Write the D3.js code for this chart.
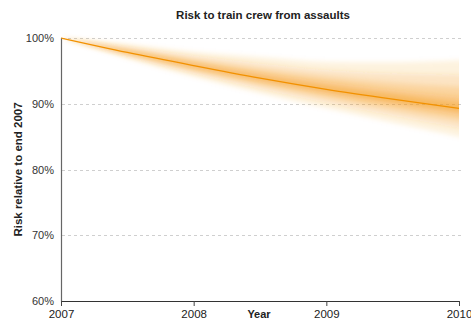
<!DOCTYPE html>
<html>
<head>
<meta charset="utf-8">
<script src="https://cdn.jsdelivr.net/npm/d3@7"></script>
<style>
  html, body { margin: 0; padding: 0; background: #fff; }
  svg { display: block; font-family: "Liberation Sans", Arial, sans-serif; }
</style>
</head>
<body>
<svg id="chart" width="471" height="322"></svg>
<script>
// Projection time points (years)
const years = [2007, 2007.5, 2008, 2008.5, 2009, 2009.5, 2010];

// Central projection, % of end-2007 risk
const median = [100, 97.8, 95.8, 93.9, 92.2, 90.7, 89.3];

// Quantile bounds of the projection fan
const q05 = [100, 96.9, 94.1, 91.6, 89.3, 87.1, 85.0];
const q15 = [100, 97.2, 94.6, 92.3, 90.2, 88.2, 86.3];
const q25 = [100, 97.4, 95.0, 92.9, 90.9, 89.1, 87.4];
const q35 = [100, 97.6, 95.4, 93.3, 91.5, 89.8, 88.2];
const q45 = [100, 97.7, 95.6, 93.7, 91.9, 90.3, 88.9];
const q55 = [100, 97.9, 96.0, 94.2, 92.6, 91.3, 90.0];
const q65 = [100, 98.1, 96.3, 94.7, 93.3, 92.1, 91.1];
const q75 = [100, 98.4, 96.7, 95.3, 94.1, 93.2, 92.6];
const q85 = [100, 98.7, 97.3, 96.1, 95.1, 94.6, 94.4];
const q95 = [100, 99.1, 97.9, 97.1, 96.4, 96.3, 96.6];

// Axis ticks
const xTicks = [2007, 2008, 2009, 2010];
const yTicks = [60, 70, 80, 90, 100];

const title = "Risk to train crew from assaults";
const xTitle = "Year";
const yTitle = "Risk relative to end 2007";

const svg = d3.select("#chart");
const plotLeft = 61, plotRight = 459, plotTop = 38, plotBottom = 301;

const x = d3.scaleLinear().domain([2007, 2010]).range([plotLeft, plotRight]);
const y = d3.scaleLinear().domain([60, 100]).range([plotBottom, plotTop]);

// Vertical-only blur to soften the fan bands
const defs = svg.append("defs");
defs.append("filter")
  .attr("id", "soft")
  .attr("filterUnits", "userSpaceOnUse")
  .attr("x", plotLeft).attr("y", 0).attr("width", plotRight - plotLeft).attr("height", 322)
  .append("feGaussianBlur")
  .attr("stdDeviation", "0 2.5");

// Dashed gridlines
svg.append("g")
  .selectAll("line")
  .data(yTicks.filter(d => d > 60))
  .join("line")
  .attr("x1", plotLeft + 1).attr("x2", plotRight + 2)
  .attr("y1", d => Math.round(y(d)) + 0.5).attr("y2", d => Math.round(y(d)) + 0.5)
  .attr("stroke", "#cfcfcf")
  .attr("stroke-dasharray", "3,3");

// Fan bands, outermost first
const bands = [[q05, q95], [q15, q85], [q25, q75], [q35, q65], [q45, q55]];
const bandOpacity = [0.13, 0.16, 0.2, 0.26, 0.36];
const area = d3.area()
  .x(d => x(d.t))
  .y0(d => y(d.lo))
  .y1(d => y(d.hi))
  .curve(d3.curveMonotoneX);

svg.append("g")
  .attr("filter", "url(#soft)")
  .selectAll("path")
  .data(bands)
  .join("path")
  .attr("d", ([lo, hi]) => area(years.map((t, i) => ({ t, lo: lo[i], hi: hi[i] }))))
  .attr("fill", "#f39a1e")
  .attr("fill-opacity", (d, i) => bandOpacity[i]);

// Central line
const line = d3.line()
  .x((d, i) => x(years[i]))
  .y(d => y(d))
  .curve(d3.curveMonotoneX);

svg.append("path")
  .attr("d", line(median))
  .attr("fill", "none")
  .attr("stroke", "#f29100")
  .attr("stroke-width", 1.3);

// Y axis
const yAxis = svg.append("g")
  .attr("transform", `translate(${plotLeft},0)`)
  .call(d3.axisLeft(y).tickValues(yTicks).tickFormat(d => d + "%").tickSize(0).tickPadding(7));
yAxis.select(".domain").attr("stroke", "#666").attr("stroke-width", 1.2);
yAxis.selectAll("text").attr("font-size", 11).attr("fill", "#333")
  .attr("font-family", "Liberation Sans, Arial, sans-serif");

// X axis
const xAxis = svg.append("g")
  .attr("transform", `translate(0,${plotBottom})`)
  .call(d3.axisBottom(x).tickValues(xTicks).tickFormat(d3.format("d")).tickSizeInner(5).tickSizeOuter(0).tickPadding(4));
xAxis.select(".domain").attr("stroke", "#333").attr("stroke-width", 1.2);
xAxis.selectAll(".tick line").attr("stroke", "#444");
xAxis.selectAll("text").attr("font-size", 11.5).attr("fill", "#222")
  .attr("font-family", "Liberation Sans, Arial, sans-serif");

// Titles
svg.append("text")
  .attr("x", 263).attr("y", 19)
  .attr("text-anchor", "middle")
  .attr("font-size", 11.5).attr("font-weight", "bold").attr("fill", "#222")
  .text(title);

svg.append("text")
  .attr("x", 259).attr("y", 318)
  .attr("text-anchor", "middle")
  .attr("font-size", 11).attr("font-weight", "bold").attr("fill", "#222")
  .text(xTitle);

svg.append("text")
  .attr("transform", `translate(22,${(plotTop + plotBottom) / 2}) rotate(-90)`)
  .attr("text-anchor", "middle")
  .attr("font-size", 11.5).attr("font-weight", "bold").attr("fill", "#222")
  .text(yTitle);
</script>
</body>
</html>
